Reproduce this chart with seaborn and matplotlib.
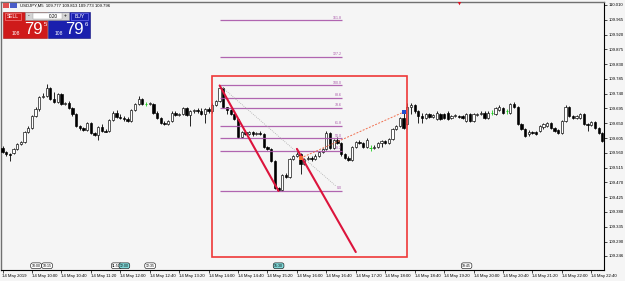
import matplotlib
matplotlib.use("Agg")
import matplotlib.pyplot as plt
import seaborn as sns
import pandas as pd
from matplotlib.patches import Rectangle

# ---------------- data (USDJPY, M5, 14 May 2019, bar 0 = 09:20) ----------------
opens = [
    109.575, 109.563, 109.557, 109.560, 109.572, 109.588, 109.594, 109.624, 109.637, 109.673,
    109.692, 109.731, 109.734, 109.756, 109.725, 109.716, 109.738, 109.710, 109.713, 109.695,
    109.679, 109.643, 109.637, 109.630, 109.652, 109.621, 109.615, 109.640, 109.627, 109.627,
    109.661, 109.682, 109.670, 109.667, 109.664, 109.658, 109.689, 109.710, 109.725, 109.710,
    109.710, 109.710, 109.682, 109.667, 109.652, 109.649, 109.658, 109.682, 109.676, 109.679,
    109.695, 109.676, 109.686, 109.689,
    109.686, 109.679, 109.692, 109.686, 109.707, 109.719, 109.756, 109.698, 109.689, 109.679,
    109.664, 109.609, 109.624, 109.618, 109.624, 109.618, 109.621, 109.618, 109.578, 109.572,
    109.536, 109.453, 109.447, 109.493, 109.487, 109.542, 109.551, 109.557, 109.526, 109.542,
    109.545, 109.542, 109.551, 109.563, 109.572, 109.621, 109.575, 109.600, 109.591, 109.557,
    109.545, 109.539, 109.578, 109.594, 109.591, 109.578, 109.575, 109.575, 109.578, 109.591,
    109.597, 109.591, 109.603, 109.633, 109.643, 109.667, 109.649, 109.698, 109.707, 109.686,
    109.673, 109.667, 109.679, 109.670, 109.664, 109.679, 109.679, 109.682, 109.667, 109.673,
    109.673, 109.673, 109.658, 109.679, 109.658, 109.676, 109.679, 109.682, 109.667, 109.682,
    109.679, 109.689, 109.695, 109.686, 109.682, 109.710, 109.698, 109.649, 109.633, 109.618,
    109.624, 109.624, 109.627, 109.640, 109.643, 109.652, 109.637, 109.630, 109.621, 109.658,
    109.701, 109.673, 109.667, 109.667, 109.679, 109.649, 109.646, 109.655, 109.637, 109.621,
]
closes = [
    109.563, 109.557, 109.554, 109.572, 109.588, 109.594, 109.624, 109.637, 109.673, 109.692,
    109.731, 109.734, 109.756, 109.725, 109.716, 109.738, 109.710, 109.713, 109.695, 109.679,
    109.643, 109.637, 109.630, 109.652, 109.621, 109.615, 109.640, 109.627, 109.624, 109.661,
    109.682, 109.670, 109.667, 109.664, 109.658, 109.689, 109.710, 109.725, 109.710, 109.710,
    109.713, 109.682, 109.667, 109.652, 109.649, 109.658, 109.682, 109.676, 109.679, 109.695,
    109.676, 109.686, 109.689, 109.686,
    109.679, 109.692, 109.686, 109.707, 109.719, 109.756, 109.698, 109.689, 109.679, 109.664,
    109.609, 109.624, 109.618, 109.624, 109.618, 109.621, 109.618, 109.578, 109.572, 109.536,
    109.453, 109.447, 109.493, 109.487, 109.542, 109.551, 109.557, 109.526, 109.542, 109.545,
    109.542, 109.551, 109.563, 109.572, 109.621, 109.575, 109.600, 109.591, 109.557, 109.545,
    109.539, 109.578, 109.594, 109.591, 109.578, 109.600, 109.575, 109.578, 109.591, 109.597,
    109.591, 109.603, 109.633, 109.643, 109.667, 109.637, 109.698, 109.707, 109.686, 109.673,
    109.667, 109.679, 109.670, 109.676, 109.682, 109.664, 109.667, 109.664, 109.673, 109.676,
    109.670, 109.667, 109.679, 109.658, 109.679, 109.679, 109.682, 109.667, 109.682, 109.682,
    109.695, 109.701, 109.682, 109.686, 109.710, 109.698, 109.649, 109.633, 109.612, 109.624,
    109.621, 109.618, 109.643, 109.649, 109.652, 109.637, 109.627, 109.621, 109.658, 109.701,
    109.673, 109.667, 109.673, 109.679, 109.649, 109.646, 109.655, 109.637, 109.621, 109.597,
]
highs = [
    109.581, 109.566, 109.560, 109.575, 109.591, 109.597, 109.627, 109.643, 109.676, 109.698,
    109.734, 109.741, 109.771, 109.759, 109.744, 109.741, 109.741, 109.716, 109.719, 109.698,
    109.682, 109.646, 109.640, 109.655, 109.655, 109.624, 109.643, 109.649, 109.633, 109.664,
    109.686, 109.689, 109.679, 109.673, 109.670, 109.692, 109.713, 109.734, 109.728, 109.716,
    109.716, 109.713, 109.686, 109.670, 109.658, 109.661, 109.686, 109.686, 109.682, 109.698,
    109.698, 109.689, 109.692, 109.695,
    109.695, 109.695, 109.698, 109.713, 109.722, 109.765, 109.759, 109.701, 109.692, 109.682,
    109.667, 109.627, 109.630, 109.627, 109.627, 109.624, 109.627, 109.621, 109.581, 109.575,
    109.539, 109.456, 109.496, 109.499, 109.545, 109.554, 109.569, 109.560, 109.545, 109.551,
    109.551, 109.557, 109.566, 109.575, 109.627, 109.624, 109.603, 109.609, 109.594, 109.560,
    109.551, 109.581, 109.597, 109.600, 109.594, 109.606, 109.584, 109.584, 109.594, 109.600,
    109.600, 109.606, 109.637, 109.646, 109.670, 109.682, 109.713, 109.713, 109.710, 109.689,
    109.682, 109.682, 109.682, 109.679, 109.686, 109.682, 109.682, 109.686, 109.676, 109.679,
    109.676, 109.676, 109.682, 109.682, 109.682, 109.682, 109.686, 109.686, 109.686, 109.689,
    109.698, 109.707, 109.698, 109.692, 109.713, 109.716, 109.704, 109.652, 109.637, 109.630,
    109.627, 109.627, 109.646, 109.652, 109.655, 109.655, 109.640, 109.633, 109.661, 109.707,
    109.704, 109.676, 109.676, 109.682, 109.682, 109.652, 109.658, 109.658, 109.640, 109.624,
]
lows = [
    109.560, 109.551, 109.536, 109.557, 109.569, 109.584, 109.591, 109.621, 109.633, 109.670,
    109.686, 109.728, 109.731, 109.722, 109.713, 109.713, 109.707, 109.707, 109.692, 109.673,
    109.640, 109.630, 109.627, 109.627, 109.618, 109.612, 109.600, 109.624, 109.624, 109.624,
    109.658, 109.667, 109.664, 109.658, 109.655, 109.655, 109.686, 109.707, 109.707, 109.704,
    109.707, 109.679, 109.664, 109.649, 109.646, 109.646, 109.655, 109.673, 109.673, 109.676,
    109.673, 109.643, 109.682, 109.682,
    109.676, 109.652, 109.682, 109.682, 109.704, 109.716, 109.695, 109.679, 109.676, 109.661,
    109.606, 109.606, 109.615, 109.615, 109.612, 109.615, 109.615, 109.575, 109.569, 109.532,
    109.450, 109.444, 109.444, 109.484, 109.484, 109.539, 109.548, 109.496, 109.523, 109.539,
    109.536, 109.539, 109.548, 109.560, 109.569, 109.572, 109.572, 109.588, 109.551, 109.542,
    109.536, 109.536, 109.575, 109.588, 109.575, 109.575, 109.566, 109.572, 109.575, 109.578,
    109.588, 109.588, 109.600, 109.630, 109.640, 109.633, 109.646, 109.679, 109.682, 109.652,
    109.652, 109.664, 109.667, 109.667, 109.661, 109.661, 109.664, 109.661, 109.664, 109.670,
    109.667, 109.664, 109.655, 109.655, 109.655, 109.673, 109.676, 109.664, 109.664, 109.676,
    109.676, 109.686, 109.679, 109.679, 109.679, 109.695, 109.646, 109.630, 109.609, 109.612,
    109.618, 109.615, 109.624, 109.633, 109.640, 109.633, 109.624, 109.618, 109.618, 109.655,
    109.670, 109.664, 109.664, 109.664, 109.646, 109.627, 109.643, 109.633, 109.618, 109.594,
]

time_labels = ["14 May 2019"] + ["14 May " + t for t in [
    "10:00", "10:40", "11:20", "12:00", "12:40", "13:20", "14:00", "14:40", "15:20", "16:00",
    "16:40", "17:20", "18:00", "18:40", "19:20", "20:00", "20:40", "21:20", "22:00", "22:40"]]
time_label_bars = [0, 8, 16, 24, 32, 40, 48, 56, 64, 72, 80, 88, 96, 104, 112, 120, 128, 136, 144, 152, 160]

price_ticks = [110.010, 109.965, 109.920, 109.875, 109.830, 109.785, 109.740, 109.695, 109.650,
               109.605, 109.560, 109.515, 109.470, 109.425, 109.380, 109.335, 109.290, 109.246]

fib_levels = [0.0, 38.2, 50.0, 61.8, 78.6, 88.6, 100.0, 127.2, 161.8]
fib_high, fib_low = 109.765, 109.444
fib_bar_start, fib_bar_end = 59.1, 92.3

box_bar = (56.9, 109.9)
box_price = (109.243, 109.794)
channel_a = ((59, 109.765), (75, 109.444))
channel_b = ((80, 109.572), (96, 109.258))
fib_diag = ((59.1, 109.765), (90.6, 109.459))
dash_line = ((81, 109.544), (109, 109.684))

vline_labels = ["10:00", "10:15", "11:50", "12:00", "12:35", "15:30", "19:45"]
vline_bars = [7.9, 10.9, 29.8, 31.9, 38.9, 73.8, 124.9]
vline_highlight = [False, False, False, True, False, True, False]

# ---------------- figure ----------------
sns.set_theme(style="white")
plt.rcParams["font.family"] = ["Liberation Sans", "DejaVu Sans"]
BG = "#f5f5f5"
W, H = 625, 281
fig = plt.figure(figsize=(W / 100, H / 100), dpi=100, facecolor=BG)

x0, x1, y0, y1 = 1.0, 604.0, 1.5, 269.5
ax = fig.add_axes([x0 / W, (H - y1) / H, (x1 - x0) / W, (y1 - y0) / H])
ax.set_facecolor(BG)

df = pd.DataFrame({"o": opens, "h": highs, "l": lows, "c": closes})
df["i"] = range(len(df))
up = df[df.c > df.o]
dn = df[df.c < df.o]
dj = df[df.c == df.o]
bw = 0.62

nd = df[df.c != df.o]
ax.vlines(nd.i, nd.l, nd.h, color="black", lw=0.6, zorder=2)
ax.bar(up.i, up.c - up.o, bottom=up.o, width=bw, color="white", edgecolor="black", lw=0.45, zorder=3)
ax.bar(dn.i, dn.o - dn.c, bottom=dn.c, width=bw, color="black", edgecolor="black", lw=0.45, zorder=3)
ax.vlines(dj.i, dj.l, dj.h, color="#22cc22", lw=0.6, zorder=3)
ax.hlines(dj.c, dj.i - bw / 2, dj.i + bw / 2, color="#22cc22", lw=0.7, zorder=3)

# fibonacci levels
fib_col = "#a955a9"
for lv in fib_levels:
    p = fib_low + (fib_high - fib_low) * lv / 100.0
    ax.hlines(p, fib_bar_start, fib_bar_end, color=fib_col, lw=0.9, alpha=0.9, zorder=4)
    ax.text(fib_bar_end, p + 0.002, f"{lv:.1f}", ha="right", va="bottom", fontsize=2.6, color=fib_col, zorder=6)

# analysis objects
ax.add_patch(Rectangle((box_bar[0], box_price[0]), box_bar[1] - box_bar[0], box_price[1] - box_price[0],
                       fill=False, edgecolor="#ee3838", lw=1.2, zorder=5))
for (a, b) in (channel_a, channel_b):
    ax.plot([a[0], b[0]], [a[1], b[1]], color="#dc143c", lw=1.5, zorder=6, solid_capstyle="round")
ax.plot([fib_diag[0][0], fib_diag[1][0]], [fib_diag[0][1], fib_diag[1][1]], color="#aaaaaa", lw=0.6,
        ls=(0, (1, 1.5)), zorder=4)
ax.plot([dash_line[0][0], dash_line[1][0]], [dash_line[0][1], dash_line[1][1]], color="#f07050", lw=0.7,
        ls=(0, (2, 1.5)), zorder=6)
sns.scatterplot(x=[dash_line[0][0]], y=[dash_line[0][1]], color="#f06a30", s=6, marker="s", linewidth=0, ax=ax, zorder=7)
sns.scatterplot(x=[dash_line[1][0]], y=[dash_line[1][1]], color="#2050d0", s=5, marker="s", linewidth=0, ax=ax, zorder=7)
sns.scatterplot(x=[124.0], y=[110.017], color="#e01020", s=7, marker="v", linewidth=0, ax=ax, zorder=7)

# axes / ticks
price_top = 110.0252 - 0.003044 * y0
price_bot = 110.0252 - 0.003044 * y1
ax.set_ylim(price_bot, price_top)
ax.set_xlim((x0 - 2.5) / 3.68, (x1 - 2.5) / 3.68)
ax.yaxis.tick_right()
ax.set_yticks(price_ticks)
ax.set_yticklabels([f"{p:.3f}" for p in price_ticks], fontsize=3.1)
ax.set_xticks(time_label_bars)
ax.set_xticklabels(time_labels, fontsize=3.1)
for lab in ax.get_xticklabels():
    lab.set_horizontalalignment("left")
ax.tick_params(axis="y", right=True, left=False, length=2, width=0.5, pad=1, colors="black")
ax.tick_params(axis="x", bottom=True, length=2, width=0.5, pad=1.2, colors="black")
for s in ("right", "bottom"):
    ax.spines[s].set_color("black")
    ax.spines[s].set_linewidth(0.8)
for s in ("left", "top"):
    ax.spines[s].set_color("#707070")
    ax.spines[s].set_linewidth(1.0)
ax.set_xlabel("")
ax.set_ylabel("")

# vertical-line time tags along the bottom
for bar, lab, hl in zip(vline_bars, vline_labels, vline_highlight):
    ax.text(bar, 0.014, lab, transform=ax.get_xaxis_transform(), ha="left", va="center", fontsize=2.5,
            color="black", zorder=8,
            bbox=dict(boxstyle="round,pad=0.25,rounding_size=0.6", fc="#80d8d8" if hl else "white",
                      ec="black", lw=0.4))

# ---------------- header / one-click trading panel (pixel overlay) ----------------
ov = fig.add_axes([0, 0, 1, 1], zorder=20)
ov.set_xlim(0, W)
ov.set_ylim(H, 0)
ov.axis("off")
ov.patch.set_alpha(0)

ov.add_patch(Rectangle((2.5, 2.5), 6, 5, fc="#e05050", ec="none"))
ov.add_patch(Rectangle((9.5, 2.5), 7, 5, fc="#4a5cc8", ec="none"))
ov.text(20, 5.2, "USDJPY,M5  109.777 109.813 109.773 109.796", fontsize=3.1, va="center", ha="left", color="black")

ov.add_patch(Rectangle((3, 12), 44, 26, fc="#cf1a1a", ec="#a01010", lw=0.4))
ov.add_patch(Rectangle((48, 12), 42, 26, fc="#1a1fae", ec="#10107a", lw=0.4))
ov.add_patch(Rectangle((4.5, 12.8), 16, 7, fc="none", ec="#ff9090", lw=0.4))
ov.add_patch(Rectangle((71, 12.8), 16.5, 7, fc="none", ec="#8080ff", lw=0.4))
ov.text(12.5, 16.4, "SELL", fontsize=3.6, color="white", ha="center", va="center")
ov.text(79.2, 16.4, "BUY", fontsize=3.6, color="white", ha="center", va="center")

ov.add_patch(Rectangle((25, 12), 44, 8, fc="#d4d4d4", ec="#8a8a8a", lw=0.4))
ov.add_patch(Rectangle((33, 12.6), 29, 6.8, fc="white", ec="#9a9a9a", lw=0.3))
ov.text(29, 15.9, "-", fontsize=3.6, ha="center", va="center", color="black")
ov.text(65.5, 15.9, "+", fontsize=3.6, ha="center", va="center", color="black")
ov.text(57.5, 16.1, "0.20", fontsize=3.4, ha="right", va="center", color="black")

ov.text(16, 33.6, "108", fontsize=3.6, color="white", ha="center", va="center")
ov.text(33.5, 29.2, "79", fontsize=12, color="white", ha="center", va="center")
ov.text(45.3, 24.6, "5", fontsize=4.4, color="white", ha="center", va="center")
ov.text(59, 33.6, "108", fontsize=3.6, color="white", ha="center", va="center")
ov.text(74, 29.2, "79", fontsize=12, color="white", ha="center", va="center")
ov.text(86.5, 24.6, "6", fontsize=4.4, color="white", ha="center", va="center")

fig.savefig("out.png", dpi=100, facecolor=BG)
